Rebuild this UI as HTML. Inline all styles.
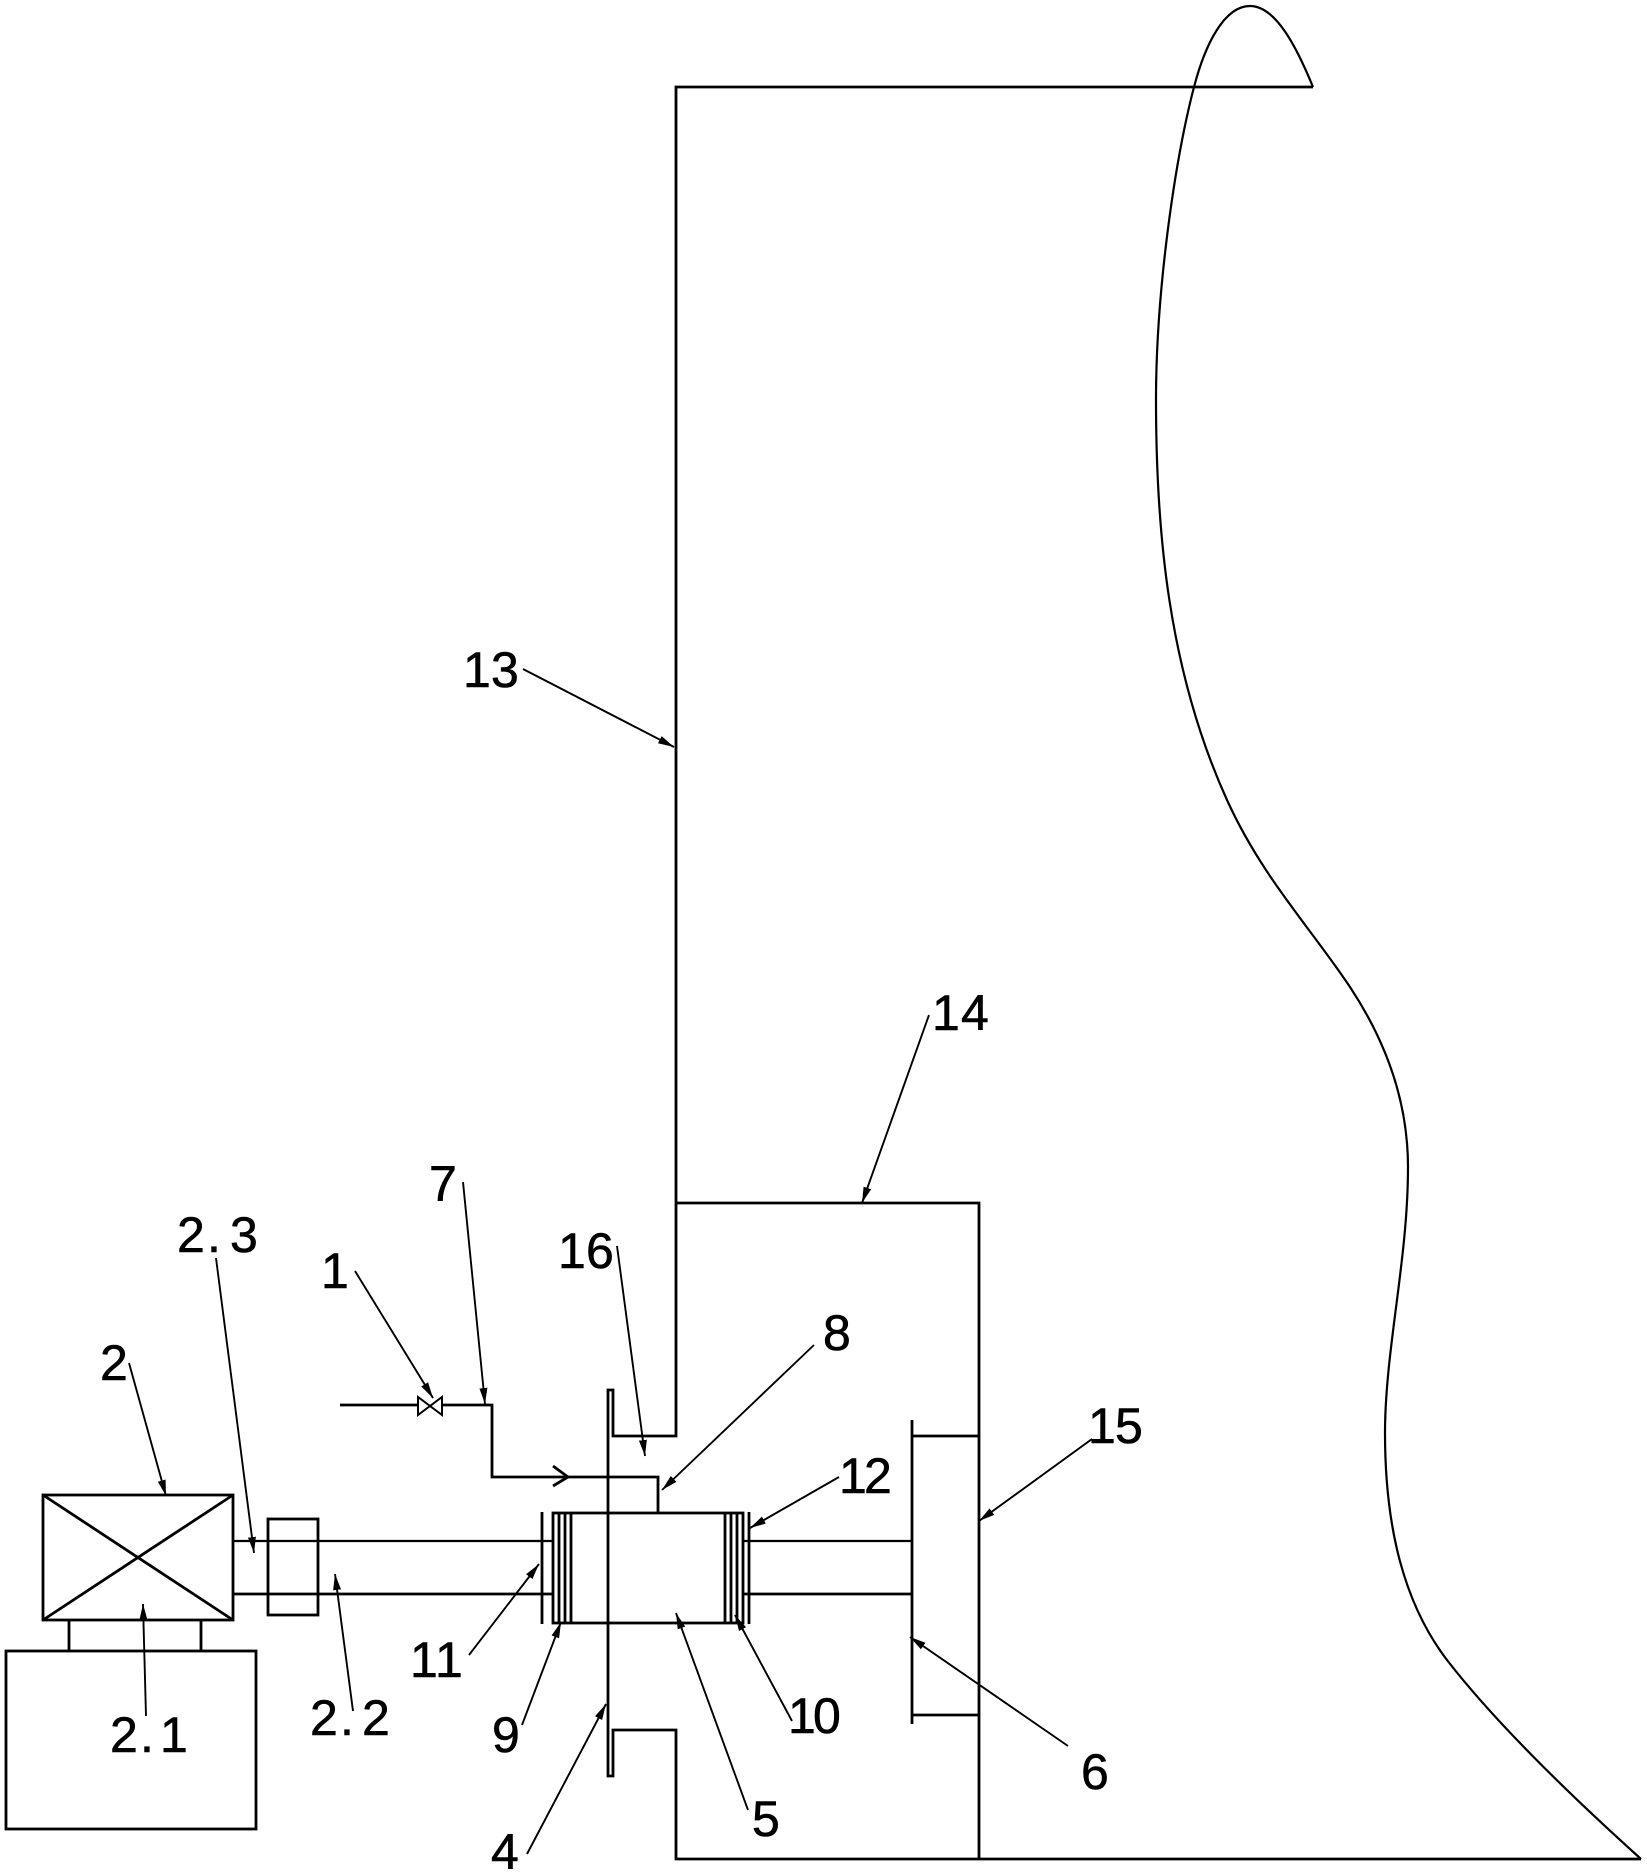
<!DOCTYPE html>
<html><head><meta charset="utf-8"><style>html,body{margin:0;padding:0;background:#fff}svg{display:block}
text{font-family:"Liberation Sans",sans-serif;font-size:50px;fill:#000;stroke:#000;stroke-width:.6px}</style></head><body>
<svg width="1647" height="1873" viewBox="0 0 1647 1873" xmlns="http://www.w3.org/2000/svg">
<defs><marker id="a" markerUnits="userSpaceOnUse" markerWidth="18" markerHeight="10" refX="16" refY="5" orient="auto"><path d="M0 1 L16 5 L0 9 Z" fill="#000"/></marker></defs>
<rect width="1647" height="1873" fill="#fff"/>
<g fill="none" stroke="#000" stroke-width="2.8">
<path stroke-width="2.2" d="M1313 87 C1297 48 1276 6 1250 6 C1224 6 1205 45 1194 87 C1175 160 1156 290 1156 400 C1156 530 1168 670 1227 800 C1262 877 1310 927 1350 987 C1385 1040 1408 1100 1408 1167 C1408 1260 1385 1350 1385 1433 C1385 1530 1405 1605 1447 1660 C1495 1722 1570 1795 1641 1859"/>
<path d="M1313 87 H676 V1436 H613 V1390 H608 V1776 H613 V1730 H676 V1859 H1641"/>
<path d="M676 1203 H979 V1859"/>
<path d="M912 1420 V1724 M912 1436 H979 M912 1715 H979"/>
<rect x="43" y="1495" width="190" height="125"/>
<path d="M43 1495 L233 1620 M233 1495 L43 1620"/>
<rect x="6" y="1651" width="250" height="178"/>
<path d="M69 1620 V1651 M201 1620 V1651"/>
<rect x="268" y="1519" width="50" height="96"/>
<path stroke-width="2.2" d="M233 1541 H553 M743 1541 H912"/>
<path d="M233 1594 H553 M743 1594 H912"/>
<path d="M542 1512 V1624 M749 1512 V1624"/>
<rect x="553" y="1513" width="190" height="110"/>
<path d="M559 1513 V1623 M565 1513 V1623 M571 1513 V1623 M725 1513 V1623 M731 1513 V1623 M737 1513 V1623"/>
<path d="M340 1405 H418 M442 1405 H492 V1477 H658 V1513"/>
<path d="M553 1466 L568 1477 L553 1486"/>
<path d="M418 1397 L442 1415 V1397 L418 1415 Z" stroke-width="2"/>
</g>
<g fill="none" stroke="#000" stroke-width="1.9">
<path d="M129 1363 L166 1496" marker-end="url(#a)"/>
<path d="M216 1258 L254 1553" marker-end="url(#a)"/>
<path d="M355 1271 L433 1398" marker-end="url(#a)"/>
<path d="M463 1182 L485 1404" marker-end="url(#a)"/>
<path d="M146 1716 L143 1604" marker-end="url(#a)"/>
<path d="M353 1711 L335 1574" marker-end="url(#a)"/>
<path d="M469 1655 L539 1564" marker-end="url(#a)"/>
<path d="M522 1725 L561 1622" marker-end="url(#a)"/>
<path d="M527 1854 L606 1704" marker-end="url(#a)"/>
<path d="M617 1246 L645 1456" marker-end="url(#a)"/>
<path d="M814 1345 L662 1490" marker-end="url(#a)"/>
<path d="M839 1477 L750 1528" marker-end="url(#a)"/>
<path d="M792 1721 L735 1615" marker-end="url(#a)"/>
<path d="M748 1810 L676 1613" marker-end="url(#a)"/>
<path d="M1068 1746 L910 1637" marker-end="url(#a)"/>
<path d="M1092 1439 L979 1521" marker-end="url(#a)"/>
<path d="M523 669 L674 747" marker-end="url(#a)"/>
<path d="M929 1015 L862 1203" marker-end="url(#a)"/>
</g>
<text x="429" y="1201">7</text>
<text x="177 207 221 230" y="1252">2. 3</text>
<text x="321" y="1288">1</text>
<text x="100" y="1380">2</text>
<text x="110 140 154 160" y="1752">2. 1</text>
<text x="310 340 354 362" y="1735">2. 2</text>
<text x="410 435" y="1677">11</text>
<text x="492" y="1752">9</text>
<text x="491" y="1869">4</text>
<text x="558 586" y="1268">16</text>
<text x="823" y="1350">8</text>
<text x="839 864" y="1493">12</text>
<text x="788 813" y="1733">10</text>
<text x="752" y="1836">5</text>
<text x="1081" y="1789">6</text>
<text x="1088 1115" y="1443">15</text>
<text x="463 491" y="687">13</text>
<text x="932 961" y="1030">14</text>
</svg>
</body></html>
